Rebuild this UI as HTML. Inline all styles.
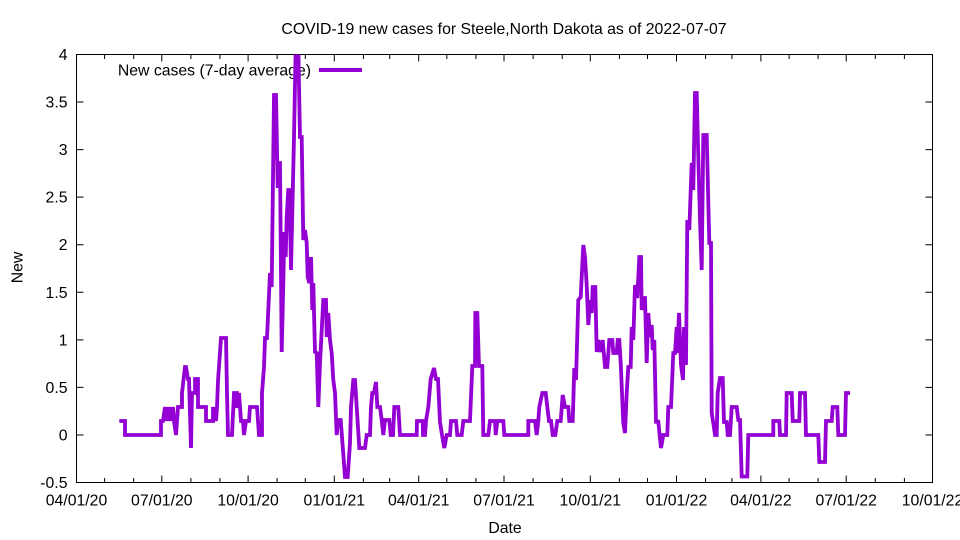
<!DOCTYPE html>
<html><head><meta charset="utf-8"><style>
html,body{margin:0;padding:0;background:#fff;}
svg{display:block;}
text{font-family:"Liberation Sans",Arial,sans-serif;font-size:15.8px;fill:#000;}
</style></head><body>
<svg width="960" height="540" viewBox="0 0 960 540" xmlns="http://www.w3.org/2000/svg">
<rect width="960" height="540" fill="#fff"/>
<defs><clipPath id="c"><rect x="76.5" y="54.5" width="856" height="428"/></clipPath></defs>
<text x="504" y="34" text-anchor="middle">COVID-19 new cases for Steele,North Dakota as of 2022-07-07</text>
<g stroke="#000" stroke-width="1" fill="none">
<rect x="76.5" y="54.5" width="856" height="428"/>
<path d="M76.5 482.5h7M932.5 482.5h-7M76.5 434.94h7M932.5 434.94h-7M76.5 387.39h7M932.5 387.39h-7M76.5 339.83h7M932.5 339.83h-7M76.5 292.28h7M932.5 292.28h-7M76.5 244.72h7M932.5 244.72h-7M76.5 197.17h7M932.5 197.17h-7M76.5 149.61h7M932.5 149.61h-7M76.5 102.06h7M932.5 102.06h-7M76.5 54.5h7M932.5 54.5h-7"/>
<path d="M161.8 482.5v-7M161.8 54.5v7M248.1 482.5v-7M248.1 54.5v7M334.3 482.5v-7M334.3 54.5v7M418.7 482.5v-7M418.7 54.5v7M504 482.5v-7M504 54.5v7M590.3 482.5v-7M590.3 54.5v7M676.5 482.5v-7M676.5 54.5v7M760.9 482.5v-7M760.9 54.5v7M846.2 482.5v-7M846.2 54.5v7"/>
<path d="M104.6 482.5v-4.5M104.6 54.5v4.5M133.7 482.5v-4.5M133.7 54.5v4.5M190.9 482.5v-4.5M190.9 54.5v4.5M219.9 482.5v-4.5M219.9 54.5v4.5M277.1 482.5v-4.5M277.1 54.5v4.5M305.3 482.5v-4.5M305.3 54.5v4.5M363.4 482.5v-4.5M363.4 54.5v4.5M389.7 482.5v-4.5M389.7 54.5v4.5M446.8 482.5v-4.5M446.8 54.5v4.5M475.9 482.5v-4.5M475.9 54.5v4.5M533.1 482.5v-4.5M533.1 54.5v4.5M562.2 482.5v-4.5M562.2 54.5v4.5M619.4 482.5v-4.5M619.4 54.5v4.5M647.5 482.5v-4.5M647.5 54.5v4.5M705.6 482.5v-4.5M705.6 54.5v4.5M731.9 482.5v-4.5M731.9 54.5v4.5M789.1 482.5v-4.5M789.1 54.5v4.5M818.1 482.5v-4.5M818.1 54.5v4.5M875.3 482.5v-4.5M875.3 54.5v4.5M904.4 482.5v-4.5M904.4 54.5v4.5"/>
</g>
<g text-anchor="end">
<text x="67.5" y="488">-0.5</text>
<text x="67.5" y="440.4">0</text>
<text x="67.5" y="392.9">0.5</text>
<text x="67.5" y="345.3">1</text>
<text x="67.5" y="297.8">1.5</text>
<text x="67.5" y="250.2">2</text>
<text x="67.5" y="202.7">2.5</text>
<text x="67.5" y="155.1">3</text>
<text x="67.5" y="107.6">3.5</text>
<text x="67.5" y="60">4</text>
</g>
<g text-anchor="middle">
<text x="76.5" y="505.5">04/01/20</text>
<text x="161.8" y="505.5">07/01/20</text>
<text x="248.1" y="505.5">10/01/20</text>
<text x="334.3" y="505.5">01/01/21</text>
<text x="418.7" y="505.5">04/01/21</text>
<text x="504" y="505.5">07/01/21</text>
<text x="590.3" y="505.5">10/01/21</text>
<text x="676.5" y="505.5">01/01/22</text>
<text x="760.9" y="505.5">04/01/22</text>
<text x="846.2" y="505.5">07/01/22</text>
<text x="932.5" y="505.5">10/01/22</text>
<text x="505" y="533">Date</text>
<text transform="translate(22.5,267.5) rotate(-90)">New</text>
</g>
<text x="311" y="75.5" text-anchor="end">New cases (7-day average)</text>
<line x1="319" y1="70" x2="362" y2="70" stroke="#9400d3" stroke-width="4"/>
<g clip-path="url(#c)">
<polyline fill="none" stroke="#9400d3" stroke-width="3.8" stroke-linejoin="miter" stroke-miterlimit="2" points="
119.3,421 125,421 125,435 161,435 161,421 163,421 165,407 166,421 167,407 168,421 169,407 170,421 171,407 172,421 173,407 174,421 176,435 178,407 182,407 182,393 185,367 186,367 188,379 189,379 191,448 192,393 195,393 195,379 198,379 198,407 206,407 206,421 213,421 213,407 216,421 217,407 218,381 221,338 226,338 227,393 228,435 232,435 234,393 237,393 237,408 239,393 241,421 243,421 244,435 246,421 249,421 250,407 257,407 258,421 259,435 262,435 262,393 264,367 265,338 267,338 270,273 271.7,287 274,95 276,95 277.7,188 279,163 280,163 281.7,352 283.3,283 284.3,232 285.7,257 286.7,217 288.3,190 289.5,190 291,270 294,137 295.7,48 298.3,48 300,137 301.7,137 303.3,240 305,230 306.7,243 307.7,277 309.3,283 311,257 312.3,310 313.3,283 315,352 316.7,353 318.3,407 320,363 323.3,300 326,300 326.7,337 328.3,313 330,340 331.7,353 333.3,380 335,393 336.7,435 338,420 340.7,420 342,437 345,477 347.7,477 350,443 351,407 353.3,380 355,380 356.7,407 359.3,448 365,448 366.7,435 370,435 371,407 372.3,393 374,393 376,382 377.3,407 380,407 381.7,420 383.3,435 385,420 389.3,420 390.7,435 393,435 394.3,407 398.3,407 400,435 416.7,435 417,421 422.7,421 423,435 425,435 426,421 428.3,407 430.7,379 434,368 436,379 438,379 440,422 442,435 444.3,448 446.7,435 450,435 451,421 456,421 457.3,435 461.7,435 463.3,421 470,421 472.3,366 475,366 475.3,313 477.3,313 479,366 482.3,366 483.3,435 488.3,435 490,421 495,421 495.7,435 497.3,421 503.3,421 504.3,435 528.3,435 528.3,421 535,421 536.7,435 538.3,421 539.3,407 542.3,393 545.7,393 547.3,407 549,421 551,421 552.7,435 555.3,435 557.3,421 560.7,421 562.7,395 565,407 568.3,407 569.3,421 572.7,421 574.3,368 576,380 578.3,300 580.7,297 583.3,245 585,257 586.7,285 588.3,325 590,300 591.7,313 592.7,287 595.3,287 596.7,352 598.3,340 600.7,352 602.7,340 605,367 607.3,367 609.3,340 612.3,340 613.3,353 616.7,353 617.7,340 619.3,340 620.7,363 623.3,423 625,433 626.7,393 628.3,367 630.7,367 631.7,327 633.3,340 635,285 637.3,298 639.3,257 641,257 641.7,310 643.3,298 645,298 646.7,363 648.3,313 650,337 651.7,325 652.7,350 654.3,340 656,421.7 658.3,421.7 661,448 663.3,435 667.3,435 668.3,407 671,407 673.3,353 675,353 676.7,327 677.3,353 679,313 681,365 683,380 684,327 686,365 687.3,220 689.3,230 691.7,163 693.3,190 695,93 696.7,93 698.3,157 700,220 701.7,270 703.3,135 706.7,135 709.3,243 711,243 711.7,413 713.3,423 715,435 716.7,435 717.7,393 720,378 722.7,378 724,422 726.7,422 727.7,435 730,435 731.7,407 736.7,407 738.3,420 740,420 741.7,476.5 747.3,476.5 748.3,435 773.3,435 773.3,421 779.3,421 780,435 786,435 786.7,393 791.7,393 792.7,421 799.3,421 800,393 805,393 806,435 818.3,435 819.3,462 825,462 826,421 831.7,421 832.7,407 837.3,407 838.3,435 845,435 846,393 850,393"/>
</g>
</svg>
</body></html>
